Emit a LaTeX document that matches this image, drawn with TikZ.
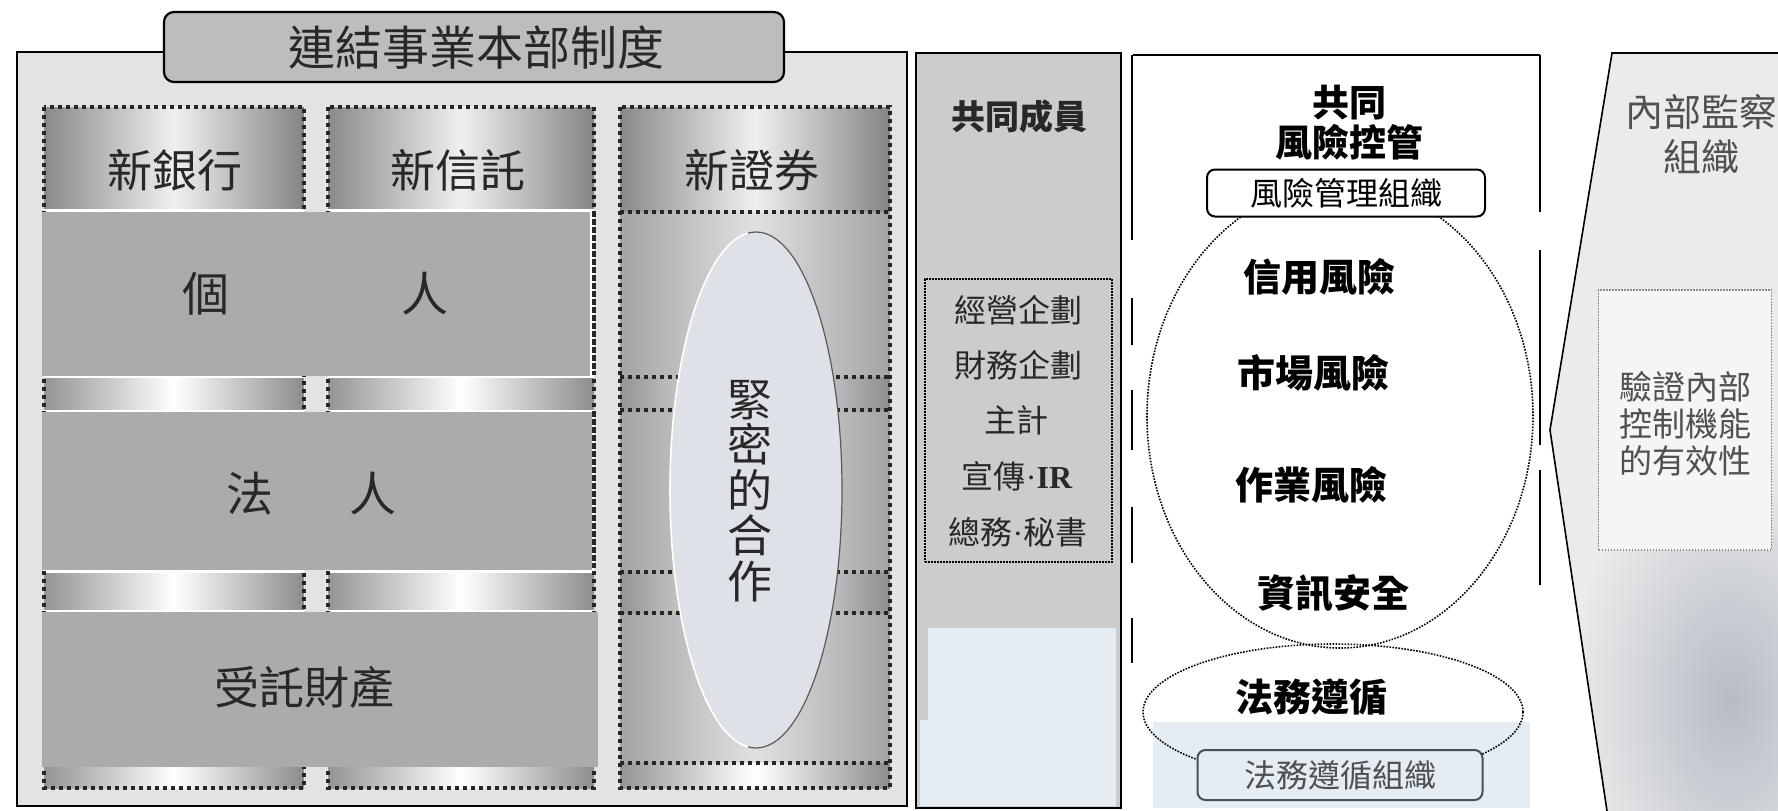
\documentclass[tikz,border=0pt]{standalone}
\usepackage{fontspec}
\setmainfont{Noto Sans CJK TC}
\newfontfamily\lserif{Liberation Serif}
\usetikzlibrary{shapes.geometric}
\newcommand\myfs[2]{\fontsize{#1}{#2}\selectfont}
\definecolor{paleblue}{RGB}{228,236,244}
\definecolor{ovalfill}{RGB}{222,226,232}
\definecolor{boxedge}{RGB}{70,80,90}
\definecolor{txtdark}{RGB}{40,40,40}
\definecolor{txtgray}{RGB}{80,80,80}
\definecolor{stainblue}{RGB}{182,188,198}
\tikzset{
  frame/.style={draw=black, line width=1.6pt},
  dotcol/.style={draw=black!85, line width=4pt, dash pattern=on 4pt off 4pt},
  fdot/.style={draw=black, line width=1.6pt, dash pattern=on 1.6pt off 1.4pt},
  hdr/.style={left color=black!46, right color=black!48, middle color=black!6},
  band/.style={left color=black!42, right color=black!45, middle color=white},
  colbody/.style={left color=black!36, right color=black!36, middle color=black!12},
  rowbox/.style={fill=black!33},
  lbl/.style={text=txtdark, inner sep=0pt},
  risk/.style={text=black, inner sep=0pt, font=\bfseries\myfs{38}{38}},
}
\begin{document}
\begin{tikzpicture}[x=1pt,y=-1pt]
\useasboundingbox (0,0) rectangle (1778,811);
\fill[white] (0,0) rectangle (1778,811);

% ---------------- left panel ----------------
\draw[frame, fill=black!11] (17,52) rectangle (907,806);
\draw[line width=2.2pt, rounded corners=10pt, fill=black!26] (164,12) rectangle (784,82);
\node[lbl, font=\myfs{47}{47}] (title) at (476,48) {連結事業本部制度};

% column 1 and 2 backgrounds
\foreach \xa/\xb in {44/304, 328/594}{
  \fill[white] (\xa,107) rectangle (\xb,788);
  \shade[hdr] (\xa,107) rectangle (\xb,208);
  \shade[band] (\xa,378) rectangle (\xb,409);
  \shade[band] (\xa,573) rectangle (\xb,609);
  \shade[band] (\xa,767) rectangle (\xb,788);
  \draw[dotcol] (\xa,107) rectangle (\xb,788);
}
% column 3
\shade[hdr] (620,107) rectangle (890,212);
\shade[colbody] (620,212) rectangle (890,788);
\shade[band] (620,377) rectangle (890,410);
\shade[band] (620,572) rectangle (890,613);
\shade[band] (620,763) rectangle (890,788);
\draw[dotcol] (620,107) rectangle (890,788);
\foreach \yy in {212,377,410,572,613,763}{
  \draw[dotcol] (620,\yy) -- (890,\yy);
}

% row boxes
\node[rowbox, minimum width=548pt, minimum height=164pt, inner sep=0pt] (kojin) at (316,294) {};
\node[rowbox, minimum width=550pt, minimum height=158pt, inner sep=0pt] (hojin) at (317,491) {};
\node[rowbox, minimum width=556pt, minimum height=155pt, inner sep=0pt] (jutaku) at (320,689.5) {};
\draw[dotcol] (594,213) -- (594,374);
\draw[dotcol] (594,413) -- (594,568);

% cooperation oval
\node[ellipse, fill=ovalfill, minimum width=172pt, minimum height=516pt, inner sep=0pt] (coop) at (756,490) {};
\begin{scope}
  \clip (660,220) rectangle (748,760);
  \draw[white, line width=1.6pt] (756,490) ellipse [x radius=86, y radius=258];
\end{scope}
\begin{scope}
  \clip (748,220) rectangle (850,760);
  \draw[black!65, line width=1.2pt] (756,490) ellipse [x radius=86, y radius=258];
\end{scope}
\node[lbl, align=center, font=\myfs{45}{45.6}] (cooptxt) at (750,491) {緊\\密\\的\\合\\作};

% header labels
\node[lbl, font=\myfs{45}{45}] (bank) at (175,170) {新銀行};
\node[lbl, font=\myfs{45}{45}] (trust) at (458,170) {新信託};
\node[lbl, font=\myfs{45}{45}] (sec) at (752,170) {新證券};
\node[lbl, font=\myfs{47}{47}] (ko) at (206,294) {個};
\node[lbl, font=\myfs{47}{47}] (jin1) at (425,294) {人};
\node[lbl, font=\myfs{47}{47}] (ho) at (250,494) {法};
\node[lbl, font=\myfs{47}{47}] (jin2) at (373,494) {人};
\node[lbl, font=\myfs{45}{45}] (zaisan) at (304,687) {受託財產};

% ---------------- middle panel ----------------
\draw[frame, fill=black!20] (916,53) rectangle (1121,808);
\fill[paleblue] (928,628) rectangle (1116,806);
\fill[paleblue] (920,720) rectangle (930,806);
\node[lbl, font=\bfseries\myfs{34}{34}] (members) at (1019,117) {共同成員};
\node[fdot, minimum width=187pt, minimum height=283pt, inner sep=0pt] (svc) at (1018.5,420.5) {};
\node[lbl, font=\myfs{32}{32}] (m1) at (1018,310) {經營企劃};
\node[lbl, font=\myfs{32}{32}] (m2) at (1018,365) {財務企劃};
\node[lbl, font=\myfs{32}{32}] (m3) at (1016,420) {主計};
\node[lbl, font=\myfs{32}{32}] (m4) at (1017,476) {宣傳{\lserif ·}{\lserif\bfseries IR}};
\node[lbl, font=\myfs{32}{32}] (m5) at (1018,532) {總務{\lserif ·}秘書};

% ---------------- right panel ----------------
\draw[frame] (1133,55) -- (1540,55);
\foreach \ya/\yb in {55/240, 298/345, 390/450, 507/563, 618/663}{
  \draw[frame] (1132,\ya) -- (1132,\yb);
}
\foreach \ya/\yb in {55/212, 250/445, 470/585}{
  \draw[frame] (1540,\ya) -- (1540,\yb);
}
\fill[paleblue] (1153,722) rectangle (1530,808);
\node[ellipse, fdot, minimum width=386pt, minimum height=464pt, inner sep=0pt] (riskoval) at (1340,416) {};
\node[draw, line width=2pt, rounded corners=8pt, fill=white, minimum width=278pt, minimum height=47pt, inner sep=0pt, font=\myfs{32}{32}] (rmo) at (1346,193) {風險管理組織};
\node[lbl, align=center, text=black, font=\bfseries\myfs{37}{40}] (joint) at (1349,123) {共同\\風險控管};
\node[risk] (r1) at (1319,277) {信用風險};
\node[risk] (r2) at (1313,373) {市場風險};
\node[risk] (r3) at (1311,485) {作業風險};
\node[risk] (r4) at (1333,593) {資訊安全};
\node[ellipse, fdot, minimum width=380pt, minimum height=136pt, inner sep=0pt] (compl) at (1333,712) {};
\node[risk] (c1) at (1311,697) {法務遵循};
\node[draw=boxedge, line width=2pt, rounded corners=8pt, fill=paleblue, text=txtgray, minimum width=285pt, minimum height=50pt, inner sep=0pt, font=\myfs{32}{32}] (cbox) at (1340,775) {法務遵循組織};

% ---------------- audit chevron ----------------
\fill[black!8] (1612,53) -- (1778,53) -- (1778,811) -- (1607,811) -- (1550,430) -- cycle;
\begin{scope}
  \clip (1612,53) -- (1778,53) -- (1778,811) -- (1607,811) -- (1550,430) -- cycle;
  \shade[inner color=stainblue, outer color=black!8] (1730,700) ellipse [x radius=160, y radius=250];
\end{scope}
\draw[frame] (1778,53) -- (1612,53) -- (1550,430) -- (1607,811);
\node[lbl, align=center, text=txtgray, font=\myfs{38}{45}] (audit) at (1701,134) {內部監察\\組織};
\node[fdot, draw=gray!90, fill=black!4, minimum width=173pt, minimum height=260pt, inner sep=0pt] (verify) at (1685,420) {};
\node[lbl, align=center, text=txtgray, font=\myfs{33}{37}] (vtxt) at (1685,424) {驗證內部\\控制機能\\的有效性};
\end{tikzpicture}
\end{document}
